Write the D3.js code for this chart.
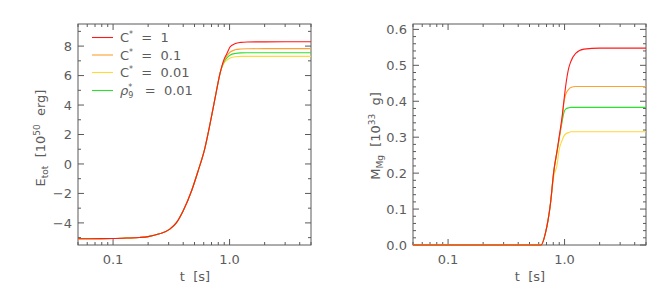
<!DOCTYPE html>
<html>
<head>
<meta charset="utf-8">
<script src="https://cdn.jsdelivr.net/npm/d3@7"></script>
<style>
  html, body { margin: 0; padding: 0; background: #fff; }
  svg { display: block; }
  text { font-family: "DejaVu Sans", sans-serif; fill: #5c5c5c; }
</style>
</head>
<body>
<svg id="chart" width="668" height="295"></svg>
<script>
// ---------------- DATA ----------------
const seriesNames = ["C* = 1", "C* = 0.1", "C* = 0.01", "rho9* = 0.01"];
const seriesColors = ["#ff1a1a", "#ffa030", "#ffd83a", "#2ee02e"];

const xMajorTicks = [0.1, 1.0];
const xTickLabels = ["0.1", "1.0"];
const xMinorTicks = [0.05, 0.06, 0.07, 0.08, 0.09, 0.2, 0.3, 0.4, 0.5, 0.6, 0.7, 0.8, 0.9, 2, 3, 4, 5];

const eTickValues = [-4, -2, 0, 2, 4, 6, 8];
const eTickLabels = ["\u22124", "\u22122", "0", "2", "4", "6", "8"];
const mTickValues = [0.0, 0.1, 0.2, 0.3, 0.4, 0.5, 0.6];
const mTickLabels = ["0.0", "0.1", "0.2", "0.3", "0.4", "0.5", "0.6"];

// Total energy E_tot [1e50 erg]
const timeE = [0.05, 0.08, 0.1, 0.13, 0.169, 0.2, 0.25, 0.307, 0.35, 0.4, 0.473, 0.539, 0.608, 0.681, 0.767, 0.831, 0.882, 0.949, 1.014, 1.12, 1.25, 1.41, 2.0, 3.0, 5.0];
const eC1    = [-5.08, -5.07, -5.06, -5.03, -4.99, -4.93, -4.74, -4.42, -3.98, -3.17, -1.80, -0.43, 0.94, 2.75, 4.85, 6.20, 6.95, 7.50, 7.96, 8.17, 8.25, 8.28, 8.29, 8.30, 8.30];
const eC01   = [-5.08, -5.07, -5.06, -5.03, -4.99, -4.93, -4.74, -4.42, -3.98, -3.17, -1.80, -0.43, 0.94, 2.75, 4.85, 6.20, 6.88, 7.35, 7.60, 7.75, 7.80, 7.82, 7.83, 7.83, 7.83];
const eC001  = [-5.08, -5.07, -5.06, -5.03, -4.99, -4.93, -4.74, -4.42, -3.98, -3.17, -1.80, -0.43, 0.94, 2.75, 4.85, 6.20, 6.75, 7.05, 7.20, 7.28, 7.30, 7.30, 7.30, 7.30, 7.30];
const eRho   = [-5.08, -5.07, -5.06, -5.03, -4.99, -4.93, -4.74, -4.42, -3.98, -3.17, -1.80, -0.43, 0.94, 2.75, 4.85, 6.20, 6.82, 7.20, 7.40, 7.50, 7.54, 7.55, 7.55, 7.55, 7.55];

// Synthesized Mg mass M_Mg [1e33 g]
const timeM = [0.05, 0.3, 0.629, 0.685, 0.757, 0.808, 0.865, 0.893, 0.955, 0.986, 1.02, 1.089, 1.13, 1.245, 1.468, 2.0, 5.0];
const mC1   = [0, 0, 0, 0.033, 0.116, 0.205, 0.265, 0.295, 0.360, 0.400, 0.440, 0.494, 0.510, 0.533, 0.545, 0.548, 0.548];
const mC01  = [0, 0, 0, 0.033, 0.116, 0.205, 0.265, 0.292, 0.355, 0.395, 0.418, 0.434, 0.438, 0.441, 0.441, 0.441, 0.441];
const mC001 = [0, 0, 0, 0.033, 0.114, 0.190, 0.225, 0.260, 0.292, 0.303, 0.309, 0.313, 0.315, 0.315, 0.315, 0.315, 0.315];
const mRho  = [0, 0, 0, 0.033, 0.116, 0.205, 0.262, 0.290, 0.345, 0.368, 0.378, 0.382, 0.383, 0.383, 0.383, 0.383, 0.383];

// ---------------- DRAW ----------------
const svg = d3.select("#chart");
const axisColor = "#5a5a5a";
const plotTop = 24, plotBottom = 245;

function panel(opts) {
  const g = svg.append("g");
  const x = d3.scaleLog().domain([0.05, 5]).range([opts.x0, opts.x1]);
  const y = d3.scaleLinear().domain(opts.yDomain).range([plotBottom, plotTop]);

  const order = [2, 3, 1, 0];
  const line = d3.line().x(d => x(d[0])).y(d => y(d[1])).curve(d3.curveMonotoneX);

  g.append("rect").attr("x", opts.x0).attr("y", plotTop)
    .attr("width", opts.x1 - opts.x0).attr("height", plotBottom - plotTop)
    .attr("fill", "none").attr("stroke", axisColor).attr("stroke-width", 1);

  const majL = 6, minL = 3;
  const xt = xMajorTicks.map(v => [v, majL]).concat(xMinorTicks.map(v => [v, minL]));
  xt.forEach(([v, L]) => {
    const px = x(v);
    g.append("line").attr("x1", px).attr("x2", px).attr("y1", plotBottom).attr("y2", plotBottom - L)
      .attr("stroke", axisColor);
    g.append("line").attr("x1", px).attr("x2", px).attr("y1", plotTop).attr("y2", plotTop + L)
      .attr("stroke", axisColor);
  });
  xMajorTicks.forEach((v, i) => {
    g.append("text").attr("x", x(v)).attr("y", 264).attr("text-anchor", "middle")
      .attr("font-size", 13).text(xTickLabels[i]);
  });
  g.append("text").attr("x", (opts.x0 + opts.x1) / 2 + 0.5).attr("y", 281)
    .attr("text-anchor", "middle").attr("font-size", 13)
    .style("white-space", "pre").text("t  [s]");

  const [ylo, yhi] = opts.yDomain;
  const minorVals = d3.range(Math.ceil(ylo / opts.yMinor - 1e-9), Math.floor(yhi / opts.yMinor + 1e-9) + 1)
    .map(k => +(k * opts.yMinor).toFixed(6));
  minorVals.forEach(v => {
    const isMaj = Math.abs(Math.round(v / opts.yMajor) * opts.yMajor - v) < 1e-6;
    const L = isMaj ? majL : minL;
    const py = y(v);
    g.append("line").attr("x1", opts.x0).attr("x2", opts.x0 + L).attr("y1", py).attr("y2", py)
      .attr("stroke", axisColor);
    g.append("line").attr("x1", opts.x1).attr("x2", opts.x1 - L).attr("y1", py).attr("y2", py)
      .attr("stroke", axisColor);
  });
  opts.yTicks.forEach((v, i) => {
    g.append("text").attr("x", opts.x0 - 6).attr("y", y(v)).attr("dy", "0.36em")
      .attr("text-anchor", "end").attr("font-size", 13).text(opts.yLabels[i]);
  });

  order.forEach(i => {
    const pts = opts.time.map((t, k) => [t, opts.series[i][k]]);
    g.append("path").attr("d", line(pts)).attr("fill", "none")
      .attr("stroke", seriesColors[i]).attr("stroke-width", 1.1);
  });

  const yt = g.append("text").attr("transform", `translate(${opts.x0 - 33},${opts.yTitleY}) rotate(-90)`)
    .attr("text-anchor", "middle").attr("font-size", 13).style("white-space", "pre");
  opts.yTitle(yt);
  return { g, x, y };
}

const leftPanel = panel({
  x0: 78, x1: 311, yDomain: [-5.5, 9.5], yTicks: eTickValues, yLabels: eTickLabels,
  yMinor: 1, yMajor: 2, time: timeE, series: [eC1, eC01, eC001, eRho], yTitleY: 138,
  yTitle: t => {
    t.append("tspan").text("E");
    t.append("tspan").attr("font-size", 9).attr("dy", 3).text("tot");
    t.append("tspan").attr("dy", -3).text("  [10");
    t.append("tspan").attr("font-size", 9).attr("dy", -5).text("50");
    t.append("tspan").attr("dy", 5).text("  erg]");
  }
});

const rightPanel = panel({
  x0: 413, x1: 646, yDomain: [0, 0.615], yTicks: mTickValues, yLabels: mTickLabels,
  yMinor: 0.02, yMajor: 0.1, time: timeM, series: [mC1, mC01, mC001, mRho], yTitleY: 136,
  yTitle: t => {
    t.append("tspan").text("M");
    t.append("tspan").attr("font-size", 9).attr("dy", 3).text("Mg");
    t.append("tspan").attr("dy", -3).text("  [10");
    t.append("tspan").attr("font-size", 9).attr("dy", -5).text("33");
    t.append("tspan").attr("dy", 5).text("  g]");
  }
});

const legRows = [37.5, 55, 72.5, 90.5];
const legendTexts = [
  t => { t.append("tspan").text("C"); t.append("tspan").attr("font-size", 8).attr("dy", -5).text("*");
         t.append("tspan").attr("dy", 5).text("  =  1"); },
  t => { t.append("tspan").text("C"); t.append("tspan").attr("font-size", 8).attr("dy", -5).text("*");
         t.append("tspan").attr("dy", 5).text("  =  0.1"); },
  t => { t.append("tspan").text("C"); t.append("tspan").attr("font-size", 8).attr("dy", -5).text("*");
         t.append("tspan").attr("dy", 5).text("  =  0.01"); },
  t => { t.append("tspan").attr("font-style", "italic").text("\u03c1");
         t.append("tspan").attr("font-size", 8).attr("dy", 3).text("9");
         t.append("tspan").attr("font-size", 8).attr("dx", -5).attr("dy", -8).text("*");
         t.append("tspan").attr("dy", 5).text("   =  0.01"); }
];
seriesNames.forEach((name, i) => {
  leftPanel.g.append("line").attr("x1", 92).attr("x2", 113).attr("y1", legRows[i]).attr("y2", legRows[i])
    .attr("stroke", seriesColors[i]).attr("stroke-width", 1.1);
  const t = leftPanel.g.append("text").attr("x", 120).attr("y", legRows[i] + 4.5)
    .attr("font-size", 13).style("white-space", "pre");
  legendTexts[i](t);
});
</script>
</body>
</html>
